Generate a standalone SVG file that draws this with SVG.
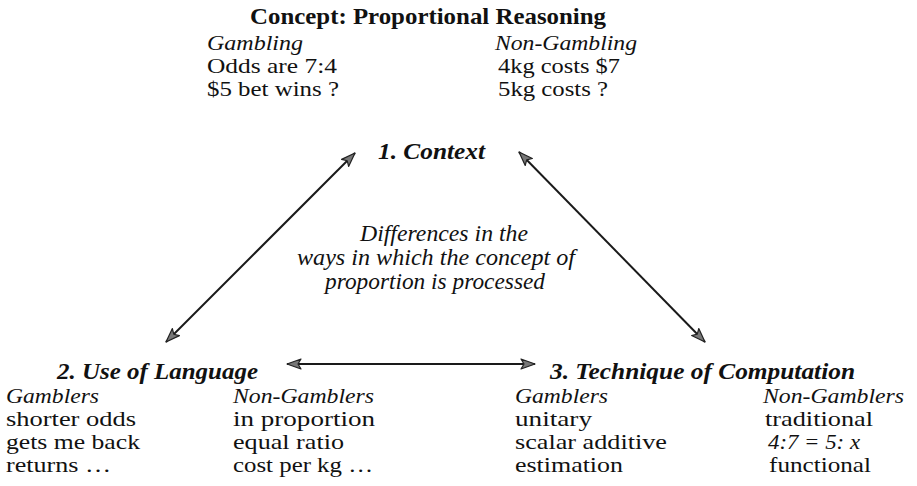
<svg xmlns="http://www.w3.org/2000/svg" width="917" height="486" viewBox="0 0 917 486">
<defs>
<style>
text{font-family:"Liberation Serif","Times New Roman",serif;font-size:22px;fill:#111}
.i{font-style:italic}
.b{font-weight:bold;font-size:23px}
.bi{font-weight:bold;font-style:italic;font-size:23px}
.m{font-size:23px}
.ln{stroke:#1a1a1a;stroke-width:2;fill:none}
</style>
<marker id="ah" viewBox="0 0 16 12" refX="15" refY="6" markerWidth="16" markerHeight="12" markerUnits="userSpaceOnUse" orient="auto-start-reverse">
<path d="M1,1 L15,6 L1,11 L4,6 Z" fill="#777" stroke="#222" stroke-width="1.2" stroke-linejoin="round"/>
</marker>
</defs>
<rect width="917" height="486" fill="#fff"/>
<g id="title">
<text class="b" x="250" y="24" textLength="356" lengthAdjust="spacingAndGlyphs">Concept: Proportional Reasoning</text>
</g>
<g id="context">
<text class="i" x="207" y="50" textLength="96" lengthAdjust="spacingAndGlyphs">Gambling</text>
<text x="207" y="73" textLength="130" lengthAdjust="spacingAndGlyphs">Odds are 7:4</text>
<text x="207" y="96" textLength="132" lengthAdjust="spacingAndGlyphs">$5 bet wins ?</text>
<text class="i" x="495" y="50" textLength="142" lengthAdjust="spacingAndGlyphs">Non-Gambling</text>
<text x="498" y="73" textLength="122" lengthAdjust="spacingAndGlyphs">4kg costs $7</text>
<text x="498" y="96" textLength="110" lengthAdjust="spacingAndGlyphs">5kg costs ?</text>
<text class="bi" x="378" y="159" textLength="107" lengthAdjust="spacingAndGlyphs">1. Context</text>
</g>
<g id="center">
<text class="i m" x="360" y="241" textLength="168" lengthAdjust="spacingAndGlyphs">Differences in the</text>
<text class="i m" x="297" y="265" textLength="278" lengthAdjust="spacingAndGlyphs">ways in which the concept of</text>
<text class="i m" x="325" y="289" textLength="220" lengthAdjust="spacingAndGlyphs">proportion is processed</text>
</g>
<g id="language">
<text class="bi" x="57" y="379" textLength="201" lengthAdjust="spacingAndGlyphs">2. Use of Language</text>
<text class="i" x="6" y="403" textLength="93" lengthAdjust="spacingAndGlyphs">Gamblers</text>
<text x="6" y="426" textLength="130" lengthAdjust="spacingAndGlyphs">shorter odds</text>
<text x="6" y="449" textLength="134" lengthAdjust="spacingAndGlyphs">gets me back</text>
<text x="6" y="472" textLength="105" lengthAdjust="spacingAndGlyphs">returns …</text>
<text class="i" x="233" y="403" textLength="141" lengthAdjust="spacingAndGlyphs">Non-Gamblers</text>
<text x="233" y="426" textLength="142" lengthAdjust="spacingAndGlyphs">in proportion</text>
<text x="233" y="449" textLength="111" lengthAdjust="spacingAndGlyphs">equal ratio</text>
<text x="233" y="472" textLength="140" lengthAdjust="spacingAndGlyphs">cost per kg …</text>
</g>
<g id="technique">
<text class="bi" x="550" y="379" textLength="305" lengthAdjust="spacingAndGlyphs">3. Technique of Computation</text>
<text class="i" x="515" y="403" textLength="93" lengthAdjust="spacingAndGlyphs">Gamblers</text>
<text x="515" y="426" textLength="77" lengthAdjust="spacingAndGlyphs">unitary</text>
<text x="515" y="449" textLength="152" lengthAdjust="spacingAndGlyphs">scalar additive</text>
<text x="515" y="472" textLength="108" lengthAdjust="spacingAndGlyphs">estimation</text>
<text class="i" x="763" y="403" textLength="141" lengthAdjust="spacingAndGlyphs">Non-Gamblers</text>
<text x="765" y="426" textLength="108" lengthAdjust="spacingAndGlyphs">traditional</text>
<text class="i" x="768" y="449" textLength="92" lengthAdjust="spacingAndGlyphs">4:7 = 5: x</text>
<text x="769" y="472" textLength="102" lengthAdjust="spacingAndGlyphs">functional</text>
</g>
<g id="connectors">
<line class="ln" x1="166" y1="342" x2="355" y2="153" marker-start="url(#ah)" marker-end="url(#ah)"/>
<line class="ln" x1="705" y1="342" x2="519" y2="152" marker-start="url(#ah)" marker-end="url(#ah)"/>
<line class="ln" x1="287" y1="364" x2="535" y2="364" marker-start="url(#ah)" marker-end="url(#ah)"/>
</g>
</svg>
